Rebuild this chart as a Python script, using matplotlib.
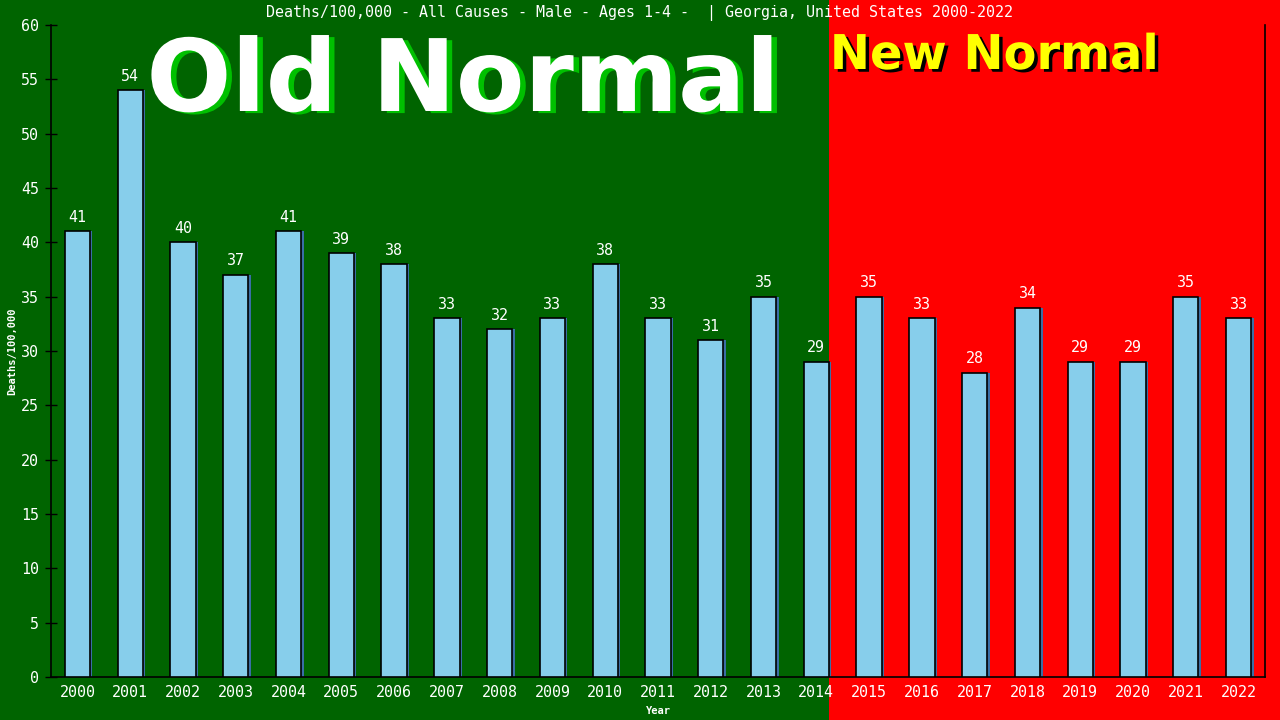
import matplotlib
matplotlib.use('Agg')
import matplotlib.pyplot as plt
import matplotlib.patheffects as pe
from matplotlib.transforms import blended_transform_factory

years = [str(y) for y in range(2000, 2023)]
deaths = [41, 54, 40, 37, 41, 39, 38, 33, 32, 33, 38, 33, 31, 35, 29,
          35, 33, 28, 34, 29, 29, 35, 33]
split_year = '2014'
title = 'Deaths/100,000 - All Causes - Male - Ages 1-4 -  | Georgia, United States 2000-2022'

mono = 'DejaVu Sans Mono'
green = '#006400'
red = '#ff0000'

fig = plt.figure(figsize=(12.8, 7.2), dpi=100)
fig.patch.set_facecolor(green)
ax = fig.add_axes([51 / 1280, 43 / 720, 1214 / 1280, 652 / 720])
ax.set_facecolor('none')

x = list(range(len(years)))
w = 0.48
split_x = years.index(split_year) + w / 2

# red background for the new normal part, green stays behind the old one
tr = blended_transform_factory(ax.transData, fig.transFigure)
fig.add_artist(plt.Rectangle((split_x, 0), 30, 1, transform=tr,
                             facecolor=red, edgecolor='none', zorder=-5))

# thin blue shadow on the right edge of each bar
ax.bar([i + 0.045 for i in x], deaths, width=w, color='#3a6ea5', zorder=2)
ax.bar(x, deaths, width=w, color='#87ceeb', edgecolor='black',
       linewidth=1.2, zorder=3)

for i, v in enumerate(deaths):
    ax.text(i, v + 0.6, str(v), ha='center', va='bottom', color='white',
            fontsize=10.8, family=mono, zorder=4)

ax.set_xlim(-0.5, len(years) - 0.5)
ax.set_ylim(0, 60)
ax.set_yticks(range(0, 61, 5))
ax.set_xticks(x)
ax.set_xticklabels(years)
ax.tick_params(axis='y', direction='inout', length=9, width=1, color='black',
               labelcolor='white', labelsize=10.8, pad=4)
ax.tick_params(axis='x', length=0, labelcolor='white', labelsize=10.8, pad=6)
for lab in ax.get_xticklabels() + ax.get_yticklabels():
    lab.set_family(mono)

ax.spines['top'].set_visible(False)
for s in ['left', 'right', 'bottom']:
    ax.spines[s].set_color('black')
    ax.spines[s].set_linewidth(1.2)

ax.set_ylabel('Deaths/100,000', color='white', fontsize=7.5,
              fontweight='bold', family=mono, labelpad=3)
ax.set_xlabel('Year', color='white', fontsize=7.5, fontweight='bold',
              family=mono, labelpad=4)

fig.text(0.5, 1 - 13 / 720, title, ha='center', va='center', color='white',
         fontsize=10.8, family=mono)

fig.text(463 / 1280, 1 - 111 / 720, 'Old Normal', ha='center', va='baseline',
         color='white', fontsize=72, fontweight='bold', family='DejaVu Sans',
         path_effects=[pe.withSimplePatchShadow(offset=(4, -1.5),
                                                shadow_rgbFace='#00c000',
                                                alpha=1.0)])
fig.text(994 / 1280, 1 - 69 / 720, 'New Normal', ha='center', va='baseline',
         color='#ffff00', fontsize=34.5, fontweight='bold', family='DejaVu Sans',
         path_effects=[pe.withSimplePatchShadow(offset=(2.5, -2),
                                                shadow_rgbFace='black',
                                                alpha=1.0)])

fig.savefig('out.png', dpi=100, facecolor=fig.get_facecolor())
